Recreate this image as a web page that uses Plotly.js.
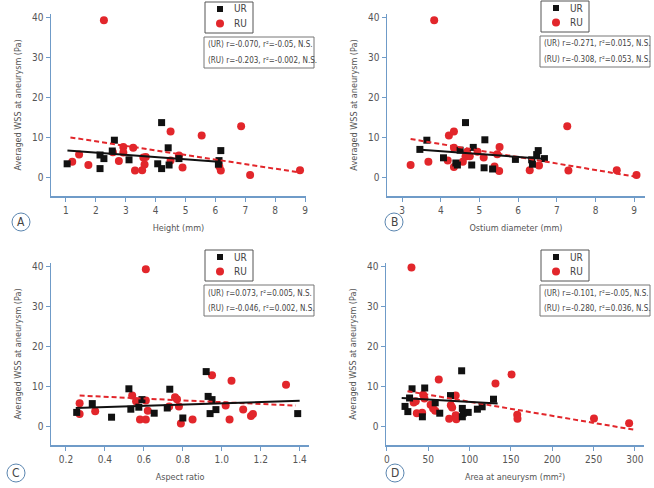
<!DOCTYPE html>
<html><head><meta charset="utf-8">
<script src="https://cdn.plot.ly/plotly-3.0.1.min.js"></script>
<style>html,body{margin:0;padding:0;background:#fff}#chart{width:654px;height:488px}</style>
</head><body><div id="chart"></div>
<script>
// ---- Data ----
const seriesNames = ['UR', 'RU'];

// Panel A: Height (mm)
const heightUR_x = [1.04, 2.14, 2.14, 2.27, 2.55, 2.62, 3.11, 4.07, 4.2, 4.2, 4.42, 4.45, 4.78, 6.1, 6.12, 6.18];
const heightUR_y = [3.4, 5.6, 2.2, 4.7, 6.6, 9.3, 4.4, 3.4, 2.2, 13.7, 7.4, 3.1, 4.7, 3.3, 4.2, 6.7];
const heightRU_x = [1.21, 1.44, 1.75, 2.27, 2.57, 2.77, 2.92, 2.92, 3.25, 3.31, 3.55, 3.59, 3.63, 3.67, 4.5, 4.5, 4.78, 4.9, 5.54, 6.13, 6.18, 6.86, 7.16, 8.83];
const heightRU_y = [3.9, 5.7, 3.1, 39.3, 6.3, 4.1, 7.6, 6.2, 7.4, 1.7, 1.8, 5.0, 3.2, 5.1, 11.5, 4.2, 5.5, 2.5, 10.5, 2.7, 1.7, 12.8, 0.6, 1.8];
const heightFitUR_x = [1.05, 6.1], heightFitUR_y = [6.7, 3.9];
const heightFitRU_x = [1.15, 8.85], heightFitRU_y = [10.0, 1.2];

// Panel B: Ostium diameter (mm)
const ostiumUR_x = [3.46, 3.64, 4.07, 4.39, 4.43, 4.5, 4.64, 4.8, 4.84, 5.12, 5.14, 5.34, 5.93, 6.35, 6.37, 6.48, 6.52, 6.68];
const ostiumUR_y = [7.0, 9.3, 4.9, 3.6, 3.1, 6.8, 13.7, 3.1, 7.5, 2.4, 9.4, 2.1, 4.5, 4.4, 3.3, 5.7, 6.7, 4.7];
const ostiumRU_x = [3.22, 3.68, 3.83, 4.18, 4.21, 4.34, 4.34, 4.34, 4.57, 4.64, 4.68, 4.75, 4.95, 5.11, 5.39, 5.46, 5.51, 5.52, 6.3, 6.54, 7.27, 7.3, 8.55, 9.06];
const ostiumRU_y = [3.1, 3.9, 39.3, 4.2, 10.5, 11.5, 7.4, 2.6, 3.9, 5.2, 6.4, 5.3, 6.4, 5.0, 2.7, 5.8, 1.6, 7.6, 1.8, 3.0, 12.8, 1.7, 1.8, 0.6];
const ostiumFitUR_x = [3.4, 6.72], ostiumFitUR_y = [7.0, 4.6];
const ostiumFitRU_x = [3.22, 9.08], ostiumFitRU_y = [9.6, 0.1];

// Panel C: Aspect ratio
const aspectUR_x = [0.255, 0.335, 0.434, 0.523, 0.533, 0.574, 0.59, 0.653, 0.72, 0.733, 0.80, 0.92, 0.93, 0.94, 0.95, 0.97, 1.39];
const aspectUR_y = [3.5, 5.7, 2.3, 9.4, 4.3, 4.8, 6.7, 3.3, 4.6, 9.3, 2.1, 13.7, 7.5, 3.2, 6.7, 4.2, 3.2];
const aspectRU_x = [0.27, 0.27, 0.35, 0.54, 0.56, 0.58, 0.61, 0.61, 0.61, 0.62, 0.73, 0.76, 0.77, 0.78, 0.79, 0.85, 0.95, 1.02, 1.04, 1.05, 1.11, 1.15, 1.16, 1.33];
const aspectRU_y = [5.8, 3.1, 3.8, 7.7, 6.3, 1.7, 1.7, 6.5, 39.3, 3.9, 5.0, 7.3, 6.8, 5.0, 0.7, 1.7, 12.8, 5.2, 1.7, 11.4, 4.2, 2.6, 3.1, 10.4];
const aspectFitUR_x = [0.25, 1.4], aspectFitUR_y = [4.6, 6.4];
const aspectFitRU_x = [0.27, 1.38], aspectFitRU_y = [7.7, 5.2];

// Panel D: Area at aneurysm (mm2)
const areaUR_x = [22, 25.4, 27.5, 30.5, 43, 45.8, 58.5, 64, 77, 90.5, 91.3, 91.3, 92.5, 98.4, 109.5, 115.3, 129];
const areaUR_y = [5.0, 3.7, 7.1, 9.4, 2.4, 9.6, 5.9, 3.3, 7.7, 13.9, 4.5, 2.4, 3.3, 3.5, 4.3, 4.9, 6.8];
const areaRU_x = [29.8, 32.5, 35, 36.3, 42.7, 44, 45.5, 53, 56, 58.5, 62.8, 75.4, 77.4, 79, 83.3, 83.3, 84, 131.4, 150.8, 157.7, 158, 250.5, 293];
const areaRU_y = [39.7, 6.0, 6.3, 3.3, 3.4, 7.9, 7.0, 5.4, 4.5, 3.9, 11.7, 1.9, 5.3, 4.7, 7.7, 2.8, 1.8, 10.7, 13.0, 2.9, 1.9, 2.0, 0.8];
const areaFitUR_x = [18, 134], areaFitUR_y = [7.1, 5.7];
const areaFitRU_x = [25, 298], areaFitRU_y = [8.8, -0.8];

// Text
const panelLetters = ['A', 'B', 'C', 'D'];
const xTitles = ['Height (mm)', 'Ostium diameter (mm)', 'Aspect ratio', 'Area at aneurysm (mm²)'];
const yTitle = 'Averaged WSS at aneurysm (Pa)';
const statUR = ['(UR) r=-0.070, r²=-0.05, N.S.', '(UR) r=-0.271, r²=0.015, N.S.', '(UR) r=0.073, r²=0.005, N.S.', '(UR) r=-0.101, r²=-0.05, N.S.'];
const statRU = ['(RU) r=-0.203, r²=-0.002, N.S.', '(RU) r=-0.308, r²=0.053, N.S.', '(RU) r=-0.046, r²=0.002, N.S.', '(RU) r=-0.280, r²=0.036, N.S.'];
const yTickVals = [0, 10, 20, 30, 40];

// ---- Layout helpers ----
const W = 654, H = 488;
const px = v => v / W, py = v => 1 - v / H;
const F = "'Liberation Sans Narrow', 'Arial Narrow', 'DejaVu Sans Condensed', 'Liberation Sans', sans-serif";
const AX = '#6f9bc8', RED = '#e2262b', BLK = '#111111', TXT = '#555555';

const panels = [
  {ux: heightUR_x, uy: heightUR_y, rx: heightRU_x, ry: heightRU_y, fux: heightFitUR_x, fuy: heightFitUR_y, frx: heightFitRU_x, fry: heightFitRU_y,
   dom: [51, 306, 14, 196], xr: [0.5, 9.03], dtick: 1, tick0: 0, fmt: '', box: [204, 37], leg: [205, 2], letter: [21, 222]},
  {ux: ostiumUR_x, uy: ostiumUR_y, rx: ostiumRU_x, ry: ostiumRU_y, fux: ostiumFitUR_x, fuy: ostiumFitUR_y, frx: ostiumFitRU_x, fry: ostiumFitRU_y,
   dom: [387, 645, 14, 196], xr: [2.61, 9.28], dtick: 1, tick0: 0, fmt: '', box: [540, 36], leg: [541, 1], letter: [394, 222]},
  {ux: aspectUR_x, uy: aspectUR_y, rx: aspectRU_x, ry: aspectRU_y, fux: aspectFitUR_x, fuy: aspectFitUR_y, frx: aspectFitRU_x, fry: aspectFitRU_y,
   dom: [51, 309, 263, 445], xr: [0.123, 1.448], dtick: 0.2, tick0: 0, fmt: '.1f', box: [204, 285], leg: [205, 250], letter: [16, 473]},
  {ux: areaUR_x, uy: areaUR_y, rx: areaRU_x, ry: areaRU_y, fux: areaFitUR_x, fuy: areaFitUR_y, frx: areaFitRU_x, fry: areaFitRU_y,
   dom: [386, 644, 263, 445], xr: [-1, 311], dtick: 50, tick0: 0, fmt: '', box: [540, 285], leg: [541, 250], letter: [395, 473]}
];

const traces = [], shapes = [], annotations = [];
const layout = {
  width: W, height: H, margin: {l: 0, r: 0, t: 0, b: 0},
  paper_bgcolor: '#fff', plot_bgcolor: '#fff', showlegend: false,
  font: {family: F, color: TXT, size: 10}
};

panels.forEach((p, i) => {
  const n = i === 0 ? '' : String(i + 1);
  const xa = 'x' + n, ya = 'y' + n;
  layout['xaxis' + n] = {
    domain: [px(p.dom[0]), px(p.dom[1])], range: p.xr, anchor: ya,
    tickmode: 'linear', tick0: p.tick0, dtick: p.dtick, tickformat: p.fmt,
    ticks: 'outside', ticklen: 4, tickwidth: 1, tickcolor: AX,
    showline: true, linecolor: AX, linewidth: 1.5, showgrid: false, zeroline: false,
    tickfont: {family: F, size: 10, color: TXT},
    title: {text: xTitles[i], font: {family: F, size: 9, color: TXT}, standoff: 10}
  };
  layout['yaxis' + n] = {
    domain: [py(p.dom[3]), py(p.dom[2])], range: [-4.65, 40.85], anchor: xa,
    tickmode: 'array', tickvals: yTickVals,
    ticks: 'outside', ticklen: 4, tickwidth: 1, tickcolor: AX,
    showline: true, linecolor: AX, linewidth: 1.5, showgrid: false, zeroline: false,
    tickfont: {family: F, size: 10, color: TXT},
    title: {text: yTitle, font: {family: F, size: 9, color: TXT}, standoff: 9}
  };
  traces.push({type: 'scatter', mode: 'markers', x: p.rx, y: p.ry, xaxis: xa, yaxis: ya, name: seriesNames[1],
    marker: {symbol: 'circle', size: 8, color: RED}, hoverinfo: 'x+y'});
  traces.push({type: 'scatter', mode: 'markers', x: p.ux, y: p.uy, xaxis: xa, yaxis: ya, name: seriesNames[0],
    marker: {symbol: 'square', size: 7, color: BLK}, hoverinfo: 'x+y'});
  traces.push({type: 'scatter', mode: 'lines', x: p.frx, y: p.fry, xaxis: xa, yaxis: ya, name: seriesNames[1] + ' fit',
    line: {color: RED, width: 2, dash: '5px,3px'}, hoverinfo: 'skip'});
  traces.push({type: 'scatter', mode: 'lines', x: p.fux, y: p.fuy, xaxis: xa, yaxis: ya, name: seriesNames[0] + ' fit',
    line: {color: BLK, width: 2}, hoverinfo: 'skip'});

  // legend box
  const [lx, ly] = p.leg;
  shapes.push({type: 'rect', xref: 'paper', yref: 'paper', x0: px(lx), x1: px(lx + 48), y0: py(ly + 31), y1: py(ly),
    line: {color: '#555', width: 1}, fillcolor: '#fff'});
  shapes.push({type: 'rect', xref: 'paper', yref: 'paper', x0: px(lx + 12), x1: px(lx + 18), y0: py(ly + 10), y1: py(ly + 4),
    line: {width: 0}, fillcolor: BLK});
  shapes.push({type: 'circle', xref: 'paper', yref: 'paper', x0: px(lx + 11), x1: px(lx + 19), y0: py(ly + 25.5), y1: py(ly + 17.5),
    line: {width: 0}, fillcolor: RED});
  annotations.push({xref: 'paper', yref: 'paper', x: px(lx + 27), y: py(ly + 7), xanchor: 'left', yanchor: 'middle',
    text: seriesNames[0], showarrow: false, font: {family: F, size: 10, color: '#444'}});
  annotations.push({xref: 'paper', yref: 'paper', x: px(lx + 27), y: py(ly + 21.5), xanchor: 'left', yanchor: 'middle',
    text: seriesNames[1], showarrow: false, font: {family: F, size: 10, color: '#444'}});

  // stats box
  const [bx, by] = p.box;
  shapes.push({type: 'rect', xref: 'paper', yref: 'paper', x0: px(bx), x1: px(bx + 110), y0: py(by + 31), y1: py(by),
    line: {color: '#777', width: 1}, fillcolor: '#fff'});
  annotations.push({xref: 'paper', yref: 'paper', x: px(bx + 2), y: py(by + 8), xanchor: 'left', yanchor: 'middle',
    text: statUR[i], showarrow: false, font: {family: F, size: 8, color: '#444'}});
  annotations.push({xref: 'paper', yref: 'paper', x: px(bx + 2), y: py(by + 23), xanchor: 'left', yanchor: 'middle',
    text: statRU[i], showarrow: false, font: {family: F, size: 8, color: '#444'}});

  // panel letter
  const [cx, cy] = p.letter;
  shapes.push({type: 'circle', xref: 'paper', yref: 'paper', x0: px(cx - 9), x1: px(cx + 9), y0: py(cy + 9), y1: py(cy - 9),
    line: {color: '#5b86b0', width: 1}, fillcolor: 'rgba(0,0,0,0)'});
  annotations.push({xref: 'paper', yref: 'paper', x: px(cx), y: py(cy), xanchor: 'center', yanchor: 'middle',
    text: panelLetters[i], showarrow: false, font: {family: F, size: 12, color: '#444'}});
});

layout.shapes = shapes;
layout.annotations = annotations;
Plotly.newPlot('chart', traces, layout, {staticPlot: true, displayModeBar: false});
</script></body></html>
